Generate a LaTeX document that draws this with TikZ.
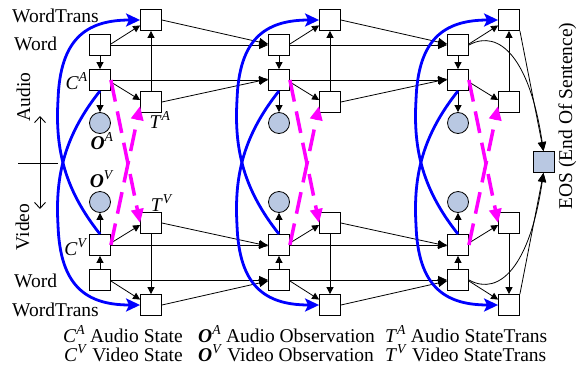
\documentclass[tikz,border=0pt]{standalone}
\usepackage{fontspec}
\setmainfont{Liberation Serif}
\usetikzlibrary{arrows.meta,calc}
\definecolor{obsblue}{RGB}{185,200,226}
\definecolor{magpure}{RGB}{255,0,255}
\definecolor{bluepure}{RGB}{0,0,255}
\begin{document}
\begin{tikzpicture}[x=1pt,y=-1pt,
  box/.style={draw=black,fill=white,minimum size=21pt,inner sep=0pt,line width=0.8pt},
  obs/.style={circle,draw=black,fill=obsblue,minimum size=21pt,inner sep=0pt,line width=0.8pt},
  lbl/.style={font=\fontsize{19.5}{22}\selectfont,inner sep=0pt},
  conn/.style={line width=0.8pt,-{Triangle[length=9pt,width=8pt]}},
  sconn/.style={line width=0.8pt,-{Triangle[length=7pt,width=7pt]}},
  bluearr/.style={draw=bluepure,line width=2.8pt,-{Stealth[length=14pt,width=13pt,inset=3pt]}},
  magarr/.style={draw=magpure,line width=3.5pt,dash pattern=on 22pt off 10pt,-{Triangle[length=14pt,width=12pt]}},
  axis/.style={line width=0.9pt},
]
\useasboundingbox (0,0) rectangle (577,375);

% nodes
\foreach \k in {0,1,2}{
  \pgfmathsetmacro{\ox}{179*\k}
  \node[box] (WTA\k) at ({151+\ox},20) {};
  \node[box] (WA\k) at ({100+\ox},45) {};
  \node[box] (CA\k) at ({100+\ox},80) {};
  \node[box] (TA\k) at ({151+\ox},102) {};
  \node[obs] (OA\k) at ({100+\ox},123) {};
  \node[obs] (OV\k) at ({100+\ox},202) {};
  \node[box] (TV\k) at ({151+\ox},223) {};
  \node[box] (CV\k) at ({100+\ox},245) {};
  \node[box] (WV\k) at ({100+\ox},280) {};
  \node[box] (WTV\k) at ({151+\ox},305) {};
}
\node[box,fill=obsblue] (EOS) at (543.5,162) {};

% in-column connectors
\foreach \k in {0,1,2}{
  \draw[sconn] ([yshift=1pt]WA\k.east) -- ($(WTA\k.west)!0.5!(WTA\k.south west)$);
  \draw[sconn] (WA\k.south) -- (CA\k.north);
  \draw[sconn] ([yshift=-2pt]CA\k.east) -- ([yshift=2pt]TA\k.west);
  \draw[sconn] (CA\k.south) -- (OA\k.north);
  \draw[sconn] (TA\k.north) -- (WTA\k.south);
  \draw[sconn] ([yshift=-1pt]WV\k.east) -- ($(WTV\k.west)!0.5!(WTV\k.north west)$);
  \draw[sconn] (WV\k.north) -- (CV\k.south);
  \draw[sconn] ([yshift=2pt]CV\k.east) -- ([yshift=-2pt]TV\k.west);
  \draw[sconn] (CV\k.north) -- (OV\k.south);
  \draw[sconn] (TV\k.south) -- (WTV\k.north);
}

% between columns
\foreach \k/\kk in {0/1,1/2}{
  \draw[conn] (WTA\k.east) -- ([yshift=1pt]WA\kk.west);
  \draw[conn] (WA\k.east) -- (WA\kk.west);
  \draw[conn] (CA\k.east) -- (CA\kk.west);
  \draw[conn] (TA\k.east) -- ([yshift=1pt]CA\kk.west);
  \draw[conn] (TV\k.east) -- ([yshift=-1pt]CV\kk.west);
  \draw[conn] (CV\k.east) -- (CV\kk.west);
  \draw[conn] (WV\k.east) -- (WV\kk.west);
  \draw[conn] (WTV\k.east) -- ([yshift=-1pt]WV\kk.west);
}

% last column to EOS
\draw[conn] (WTA2.south east) -- (EOS.north);
\draw[conn] (WA2.east) .. controls (500,28) and (530,60) .. (EOS.north);
\draw[conn] (WTV2.north east) -- (EOS.south);
\draw[conn] (WV2.east) .. controls (500,297) and (530,265) .. (EOS.south);

% blue curves
\foreach \k in {0,1,2}{
  \pgfmathsetmacro{\ox}{179*\k}
  \draw[bluearr] (CV\k.north) .. controls ({65+\ox},190) and ({55+\ox},150) .. ({58+\ox},100)
     .. controls ({60+\ox},40) and ({85+\ox},20) .. (WTA\k.west);
  \draw[bluearr] (CA\k.south) .. controls ({65+\ox},135) and ({55+\ox},175) .. ({58+\ox},225)
     .. controls ({60+\ox},285) and ({85+\ox},305) .. (WTV\k.west);
}

% magenta dashed arrows
\foreach \k in {0,1,2}{
  \draw[magarr] (CA\k.east) -- (TV\k.west);
  \draw[magarr] (CV\k.east) -- ([yshift=-4pt]TA\k.west);
}

% left labels
\node[lbl,anchor=base west] (lWTa) at (12,22) {WordTrans};
\node[lbl,anchor=base west] (lWa) at (14,50) {Word};
\node[lbl,anchor=base east] (lCa) at (88,89) {\textit{C}\textsuperscript{\textit{A}}};
\node[lbl,anchor=base] (lOa) at (102,149) {\textbf{\textit{O}}\textsuperscript{\textit{A}}};
\node[lbl,anchor=base] (lTa) at (160,128) {\textit{T}\textsuperscript{\textit{A}}};
\node[lbl,anchor=base] (lOv) at (102,187) {\textbf{\textit{O}}\textsuperscript{\textit{V}}};
\node[lbl,anchor=base] (lTv) at (162,211) {\textit{T}\textsuperscript{\textit{V}}};
\node[lbl,anchor=base east] (lCv) at (88,255) {\textit{C}\textsuperscript{\textit{V}}};
\node[lbl,anchor=base west] (lWv) at (14,287) {Word};
\node[lbl,anchor=base west] (lWTv) at (12,316) {WordTrans};
\node[lbl,rotate=90,anchor=base] (lAudio) at (30,97) {Audio};
\node[lbl,rotate=90,anchor=base] (lVideo) at (29,227) {Video};
\node[lbl,rotate=90,anchor=base] (lEOS) at (572,116) {EOS (End Of Sentence)};

% audio/video axis
\coordinate (axTop) at (40,116);
\coordinate (axBot) at (40,209);
\coordinate (axL) at (18,163);
\coordinate (axR) at (58,163);
\draw[axis,{Straight Barb[length=6pt,width=11pt]}-{Straight Barb[length=6pt,width=11pt]}] (axTop) -- (axBot);
\draw[axis] (axL) -- (axR);

% legend
\node[lbl,anchor=base west] (g1) at (63,342) {\textit{C}\textsuperscript{\textit{A}} Audio State};
\node[lbl,anchor=base west] (g2) at (198,342) {\textbf{\textit{O}}\textsuperscript{\textit{A}} Audio Observation};
\node[lbl,anchor=base west] (g3) at (385,342) {\textit{T}\textsuperscript{\textit{A}} Audio StateTrans};
\node[lbl,anchor=base west] (g4) at (64,361) {\textit{C}\textsuperscript{\textit{V}} Video State};
\node[lbl,anchor=base west] (g5) at (198,361) {\textbf{\textit{O}}\textsuperscript{\textit{V}} Video Observation};
\node[lbl,anchor=base west] (g6) at (385,361) {\textit{T}\textsuperscript{\textit{V}} Video StateTrans};
\end{tikzpicture}
\end{document}
